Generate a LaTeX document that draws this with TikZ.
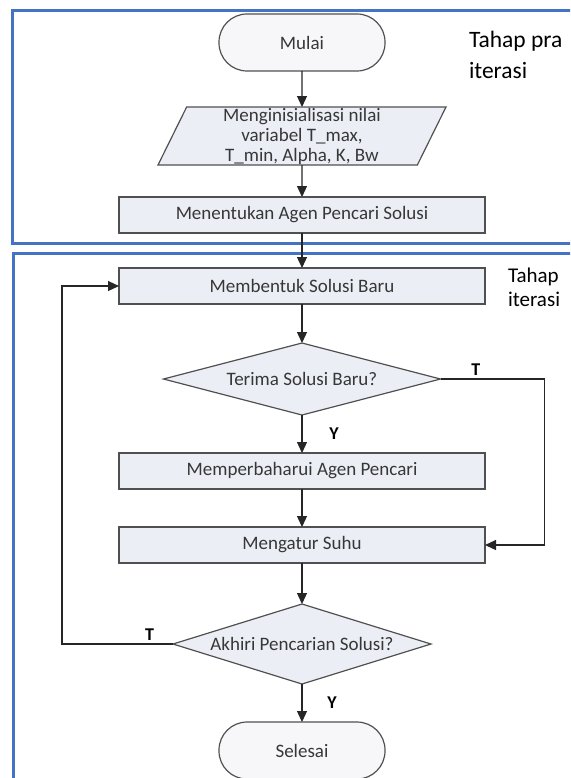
\documentclass[tikz,border=0pt]{standalone}
\usepackage{fontspec}
\setmainfont{Carlito}
\usepackage{tikz}
\usetikzlibrary{shapes,arrows.meta,positioning}

\definecolor{frameblue}{RGB}{68,114,196}
\definecolor{boxfill}{RGB}{236,238,246}
\definecolor{termfill}{RGB}{247,247,250}
\definecolor{boxline}{RGB}{80,80,80}
\definecolor{txtgray}{RGB}{55,55,55}

\begin{document}
\begin{tikzpicture}[
        x=1pt, y=-1pt,
        node distance=36pt,
        every node/.style={font=\fontsize{19}{20}\selectfont, text=txtgray, outer sep=0pt},
        proc/.style={draw=boxline, line width=1.5pt, fill=boxfill, minimum width=366pt, minimum height=36pt, inner sep=0pt},
        term/.style={draw=boxline, line width=1.2pt, fill=termfill, rounded corners=28pt, minimum width=166pt, minimum height=57pt},
        decide/.style={diamond, draw=boxline, line width=1.2pt, fill=boxfill, inner sep=0pt},
        io/.style={trapezium, trapezium left angle=63, trapezium right angle=117, trapezium stretches body, draw=boxline, line width=1.2pt, fill=boxfill, minimum width=288pt, minimum height=58pt, inner sep=0pt, align=center},
        lbl/.style={font=\fontsize{18}{18}\selectfont\bfseries, text=black, inner sep=0pt},
        tahap/.style={font=\fontsize{23.5}{31}\selectfont, text=black, align=left, inner sep=0pt, anchor=north west},
        ->, >={Triangle[length=11pt,width=10pt]}, line width=1.2pt, draw=black!85
      ]
    
      \useasboundingbox (0,0) rectangle (570,778);
      \clip (0,0) rectangle (570,778);
    
      % the two stages
      \draw[-, frameblue, line width=3pt] (12,11) rectangle (600,243);
      \draw[-, frameblue, line width=3pt] (13,253) rectangle (600,800);
      \node[tahap] (pra) at (469,31) {Tahap pra\\iterasi};
      \node[tahap, font=\fontsize{21}{24}\selectfont] (iter) at (508,268) {Tahap\\iterasi};
    
      \node[term] (start) at (302,42.5) {Mulai};
      \node[io, below=of start] (init) {Menginisialisasi nilai\\variabel T\_max,\\T\_min, Alpha, K, Bw};
      \node[proc, below=32pt of init] (agen) {Menentukan Agen Pencari Solusi};
      \node[proc, below=35pt of agen] (baru) {Membentuk Solusi Baru};
      \node[decide, aspect=3.85, minimum width=277pt, minimum height=72pt, below=39pt of baru] (terima) {Terima Solusi Baru?};
      \node[proc, below=38pt of terima] (update) {Memperbaharui Agen Pencari};
      \node[proc, below=38pt of update] (suhu) {Mengatur Suhu};
      \node[decide, aspect=3.2, minimum width=258pt, minimum height=80pt, below=41pt of suhu] (akhiri) {Akhiri Pencarian Solusi?};
      \node[term, below=38pt of akhiri] (selesai) {Selesai};
    
      \draw (start) -- (init);
      \draw (init) -- (agen);
      \draw (agen) -- (baru);
      \draw (baru) -- (terima);
      \draw (terima) -- node[lbl, midway, xshift=32pt] (ya1) {Y} (update);
      \draw (terima.east) -- node[lbl, pos=0.34, above=4pt] (tidak1) {T} ++(104,0) |- (suhu.east);
      \draw (update) -- (suhu);
      \draw (suhu) -- (akhiri);
      \draw (akhiri.west) -- node[lbl, pos=0.21, above=4pt] (tidak2) {T} ++(-111,0) |- (baru.west);
      \draw (akhiri) -- node[lbl, midway, xshift=30pt] (ya2) {Y} (selesai);
    
    \end{tikzpicture}
\end{document}
